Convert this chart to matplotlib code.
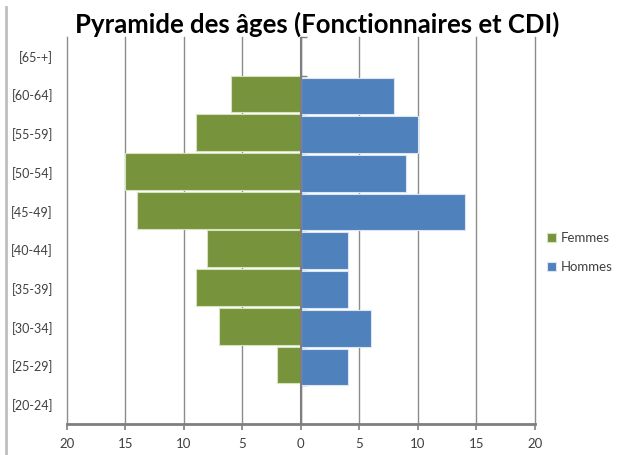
import matplotlib
matplotlib.use("Agg")
import matplotlib.pyplot as plt
from matplotlib.lines import Line2D
import numpy as np

plt.rcParams['font.family'] = ['Lato', 'DejaVu Sans']

# donnees
tranches = ["[20-24]", "[25-29]", "[30-34]", "[35-39]", "[40-44]",
            "[45-49]", "[50-54]", "[55-59]", "[60-64]", "[65-+]"]
femmes = [0, 2, 7, 9, 8, 14, 15, 9, 6, 0]
hommes = [0, 4, 6, 4, 4, 14, 9, 10, 8, 0]
xticks = [-20, -15, -10, -5, 0, 5, 10, 15, 20]

vert = "#77933C"
bleu = "#4F81BD"

fig = plt.figure(figsize=(6.19, 4.55), dpi=100)
ax = fig.add_axes([0.108, 0.068, 0.756, 0.851])

y = np.arange(len(tranches))
ax.barh(y + 0.025, -np.array(femmes), height=0.95, color=vert,
        edgecolor="#D6E3BC", linewidth=0.8, label="Femmes", zorder=3)
ax.barh(y - 0.025, hommes, height=0.95, color=bleu,
        edgecolor="#DCE6F2", linewidth=0.8, label="Hommes", zorder=3)

ax.set_xlim(-20, 20)
ax.set_ylim(-0.5, len(tranches) - 0.5)
ax.set_xticks(xticks)
ax.set_xticklabels([str(abs(v)) for v in xticks])
ax.set_yticks(y)
ax.set_yticklabels(tranches)
ax.tick_params(axis="y", length=0, pad=10, labelsize=9, labelcolor="#404040")
ax.tick_params(axis="x", length=4, width=1.2, color="#7F7F7F", pad=6,
               labelsize=9.5, labelcolor="#404040")

ax.grid(axis="x", color="#8C8C8C", linewidth=1, zorder=0)
for gl in ax.xaxis.get_gridlines():
    gl.set_clip_on(False)
for s in ["top", "right", "left"]:
    ax.spines[s].set_visible(False)
ax.spines["bottom"].set_color("#7F7F7F")
ax.spines["bottom"].set_linewidth(2)

# axe vertical au zero avec graduations entre categories
ax.axvline(0, color="#7F7F7F", linewidth=1.5, zorder=4)
sec = ax.secondary_yaxis(0.5)
sec.set_yticks(np.arange(len(tranches) + 1) - 0.5)
sec.set_yticklabels([])
sec.tick_params(length=4, width=1, color="#7F7F7F", direction="out")
sec.spines["left"].set_visible(False)

ax.set_title("Pyramide des âges (Fonctionnaires et CDI)", fontsize=18.5,
             fontweight="bold", pad=2, x=0.536)

handles, labels = ax.get_legend_handles_labels()
fig.legend(handles, labels, loc="center left", bbox_to_anchor=(0.884, 0.445),
           frameon=False, fontsize=9.5, handlelength=0.7, handleheight=0.7,
           handletextpad=0.3, labelspacing=1.3, labelcolor="#404040",
           borderpad=0, borderaxespad=0)

fig.add_artist(Line2D([0.010, 0.010], [0.0, 0.985], color="#BFBFBF",
                      linewidth=2, transform=fig.transFigure))

fig.savefig("out.png", dpi=100)
